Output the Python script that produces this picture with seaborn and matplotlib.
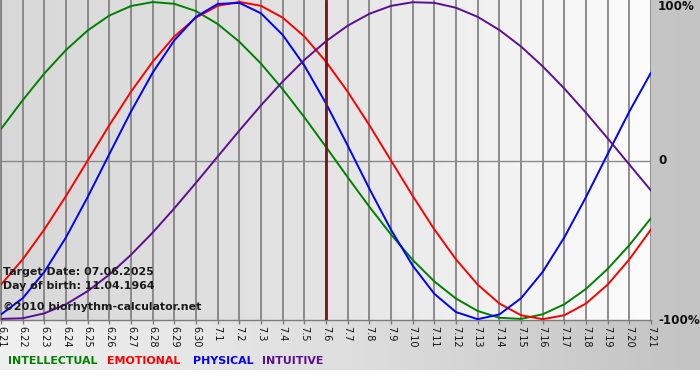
import numpy as np
import pandas as pd
import matplotlib
matplotlib.use("Agg")
import matplotlib.pyplot as plt
import seaborn as sns

# ---- data ----
dates = ["6.21", "6.22", "6.23", "6.24", "6.25", "6.26", "6.27", "6.28", "6.29", "6.30",
         "7.1", "7.2", "7.3", "7.4", "7.5", "7.6", "7.7", "7.8", "7.9", "7.10",
         "7.11", "7.12", "7.13", "7.14", "7.15", "7.16", "7.17", "7.18", "7.19", "7.20", "7.21"]

intellectual = [0.199, 0.380, 0.549, 0.697, 0.820, 0.914, 0.974, 0.999, 0.988, 0.942,
                0.861, 0.749, 0.611, 0.450, 0.273, 0.086, -0.105, -0.291, -0.466, -0.626,
                -0.762, -0.870, -0.948, -0.991, -0.998, -0.969, -0.906, -0.809, -0.683, -0.533, -0.363]
emotional = [-0.782, -0.623, -0.434, -0.223, 0.000, 0.223, 0.434, 0.623, 0.782, 0.901,
             0.975, 1.000, 0.975, 0.901, 0.782, 0.623, 0.434, 0.223, 0.000, -0.223,
             -0.434, -0.623, -0.782, -0.901, -0.975, -1.000, -0.975, -0.901, -0.782, -0.623, -0.434]
physical = [-0.970, -0.868, -0.702, -0.484, -0.230, 0.041, 0.309, 0.554, 0.758, 0.906,
            0.987, 0.994, 0.928, 0.792, 0.599, 0.360, 0.095, -0.177, -0.436, -0.662,
            -0.840, -0.955, -1.000, -0.970, -0.868, -0.702, -0.484, -0.230, 0.041, 0.309, 0.554]
intuitive = [-0.998, -0.994, -0.963, -0.906, -0.823, -0.719, -0.594, -0.454, -0.301, -0.140,
             0.025, 0.189, 0.348, 0.498, 0.634, 0.752, 0.850, 0.925, 0.975, 0.998,
             0.994, 0.963, 0.906, 0.823, 0.719, 0.594, 0.454, 0.301, 0.140, -0.025, -0.189]

cycles = ["INTELLECTUAL", "EMOTIONAL", "PHYSICAL", "INTUITIVE"]
colors = {"INTELLECTUAL": "#008000", "EMOTIONAL": "#ff0000",
          "PHYSICAL": "#0000ff", "INTUITIVE": "#5c0f8f"}
target_index = dates.index("7.6")
info_lines = ["Target Date: 07.06.2025", "Day of birth: 11.04.1964",
              "\u00a92010 biorhythm-calculator.net"]
right_labels = ["100%", "0", "-100%"]

series = {"INTELLECTUAL": intellectual, "EMOTIONAL": emotional,
          "PHYSICAL": physical, "INTUITIVE": intuitive}
rows = []
for name in cycles:
    for i, v in enumerate(series[name]):
        rows.append({"day": i, "value": v, "cycle": name})
df = pd.DataFrame(rows)

# ---- figure ----
sns.set_theme(style="white")
plt.rcParams["font.family"] = ["DejaVu Sans"]
W, H = 700, 380
fig = plt.figure(figsize=(W / 100, H / 100), dpi=100)

# figure background gradient
bg = fig.add_axes([0, 0, 1, 1], zorder=-20)
xs = np.arange(W)
shade = np.interp(xs, [0, 350, 650, 700], [240, 222, 198, 196]) / 255.0
img = np.tile(shade, (H, 1))
img[370:, :] = 1.0
bg.imshow(np.dstack([img, img, img]), extent=[0, W, H, 0], aspect="auto")
bg.set_xlim(0, W)
bg.set_ylim(H, 0)
bg.axis("off")

# plot axes
ax_left, ax_right, ax_top, ax_bottom = 1, 651, 0, 320
ax = fig.add_axes([ax_left / W, 1 - ax_bottom / H, (ax_right - ax_left) / W, (ax_bottom - ax_top) / H])
ax.set_facecolor("none")
n = len(dates)
ax.set_xlim(0, n - 1)
ax.set_ylim(-1.005, 1.012)

# plot area gradient
pg = np.interp(np.linspace(0, 1, 400), [0, 0.5, 0.72, 1.0], [216, 228, 240, 252]) / 255.0
pimg = np.tile(pg, (2, 1))
ax.imshow(np.dstack([pimg, pimg, pimg]), extent=[0, n - 1, -1.005, 1.012],
          aspect="auto", zorder=0)

# grid
for i in range(n):
    ax.axvline(i, color="#7c7c7c", lw=1.2, zorder=1)
ax.axhline(0, color="#8a8a8a", lw=1.0, zorder=1)

sns.lineplot(data=df, x="day", y="value", hue="cycle", hue_order=cycles,
             palette=colors, legend=False, ax=ax, linewidth=1.4, zorder=3)

ax.axvline(target_index, color="#7a1414", lw=2.0, zorder=4)

for sp in ["top", "right"]:
    ax.spines[sp].set_visible(False)
ax.spines["left"].set_color("#7c7c7c")
ax.spines["bottom"].set_color("#7c7c7c")
ax.spines["bottom"].set_linewidth(1.0)

ax.set_xticks(range(n))
ax.set_xticklabels(dates, rotation=-90, fontsize=7, color="#111111")
ax.tick_params(axis="x", length=3, width=1.0, color="#7c7c7c", pad=1, bottom=True)
ax.set_yticks([])
ax.set_xlabel("")
ax.set_ylabel("")

# info text
for txt, yp in zip(info_lines, [272, 286, 307]):
    fig.text(3 / W, 1 - yp / H, txt, fontsize=7.9, fontweight="bold",
             color="#1a1a1a", ha="left", va="center", zorder=10)

# right labels
for txt, yp in zip(right_labels, [7, 161, 321]):
    fig.text(658 / W, 1 - yp / H, txt, fontsize=8.6, fontweight="bold",
             color="#111111", ha="left", va="center")

# legend texts
for name, xp in zip(cycles, [8, 107, 193, 262]):
    fig.text(xp / W, 1 - 361 / H, name, fontsize=7.9, fontweight="bold",
             color=colors[name], ha="left", va="center")

fig.savefig("out.png", dpi=100)
